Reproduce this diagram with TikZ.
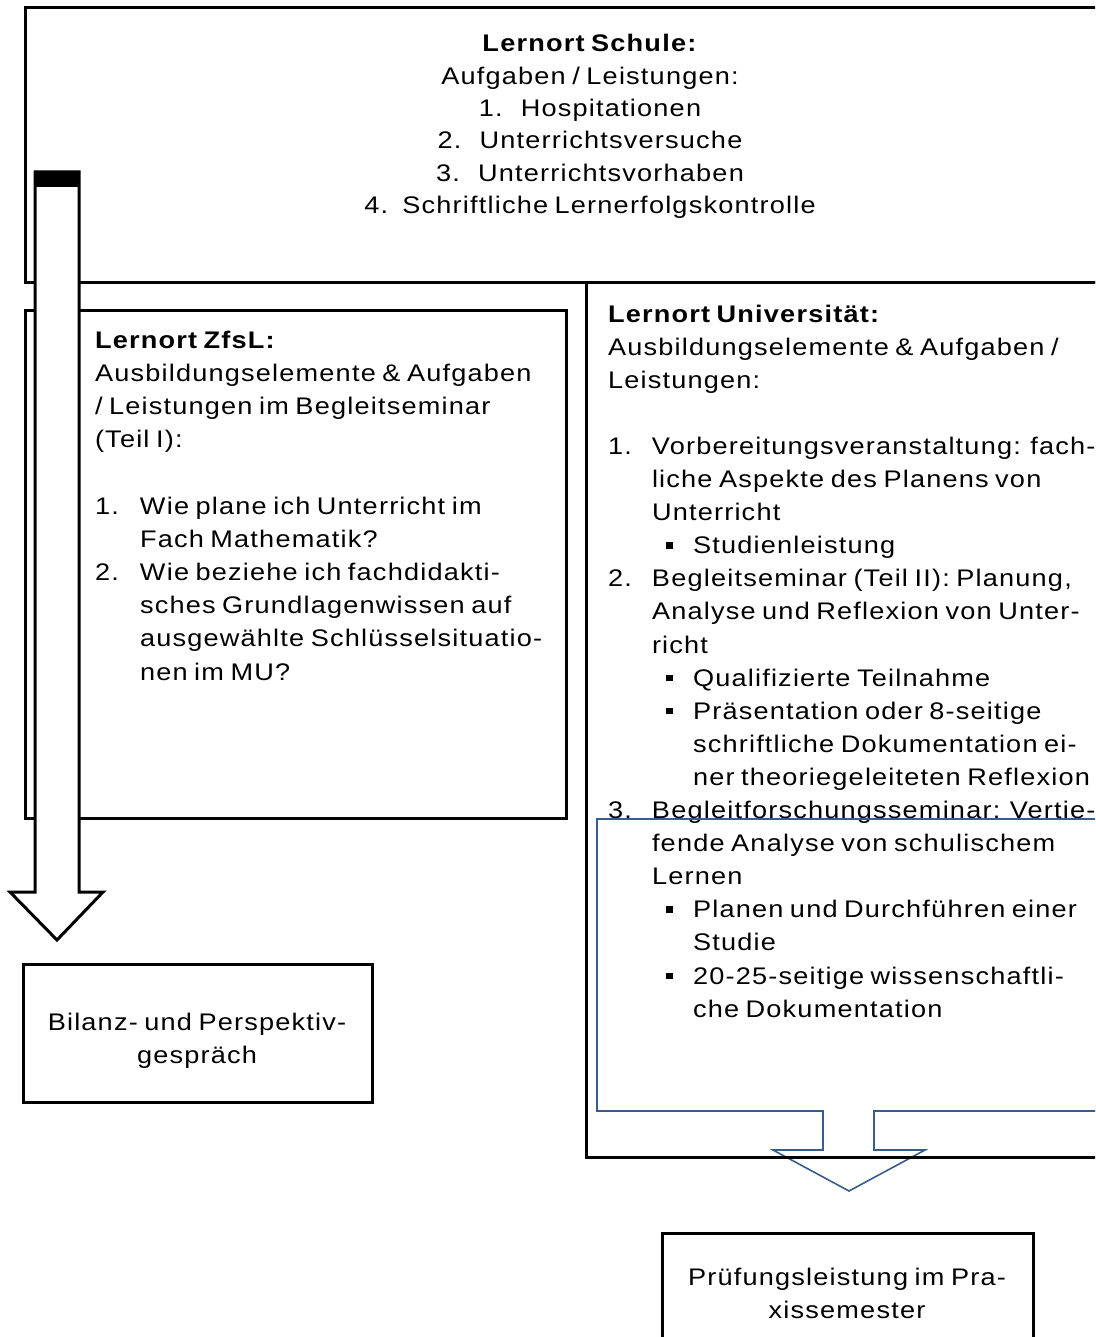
\documentclass[tikz,border=0pt]{standalone}
\usepackage{fontspec}
\setmainfont{Liberation Sans}[FakeStretch=1.13,LetterSpace=5,WordSpace=0.75]
\definecolor{calloutblue}{HTML}{385D8A}
\newcommand{\sqbul}{\raisebox{5pt}{\rule{6.5pt}{6.5pt}}}
\begin{document}
\begin{tikzpicture}[x=1pt,y=-1pt,
  frame/.style={draw=black,line width=3pt},
  txt/.style={inner sep=0pt,outer sep=0pt},
  blockarrow/.style={draw=black,line width=3pt,fill=white,line join=miter},
  callout/.style={draw=calloutblue,line width=1.6pt,line join=miter}]
\useasboundingbox (0,0) rectangle (1095,1337);
\clip (0,0) rectangle (1095,1337);

% frames
\draw[frame] (25,8) rectangle (1120,283);
\draw[frame] (25,310) rectangle (566,818);

% Text blocks
\node[txt,anchor=base,font=\fontsize{24}{32.3}\selectfont] (schule) at (590,52)
{\begin{tabular}[t]{@{}c@{}}
\textbf{Lernort Schule:}\\
Aufgaben / Leistungen:\\
\makebox[42pt][l]{1.}Hospitationen\\
\makebox[42pt][l]{2.}Unterrichtsversuche\\
\makebox[42pt][l]{3.}Unterrichtsvorhaben\\
\makebox[38pt][l]{4.}Schriftliche Lernerfolgskontrolle
\end{tabular}};

\node[txt,anchor=base west,font=\fontsize{24}{33.2}\selectfont] (zfsl) at (95,348)
{\begin{tabular}[t]{@{}l@{}}
\textbf{Lernort ZfsL:}\\
Ausbildungselemente \& Aufgaben\\
/ Leistungen im Begleitseminar\\
(Teil I):\\
\\
\makebox[45pt][l]{1.}Wie plane ich Unterricht im\\
\hspace*{45pt}Fach Mathematik?\\
\makebox[45pt][l]{2.}Wie beziehe ich fachdidakti-\\
\hspace*{45pt}sches Grundlagenwissen auf\\
\hspace*{45pt}ausgewählte Schlüsselsituatio-\\
\hspace*{45pt}nen im MU?
\end{tabular}};

\node[txt,anchor=base west,font=\fontsize{24}{33.1}\selectfont] (uni) at (608,322)
{\begin{tabular}[t]{@{}l@{}}
\textbf{Lernort Universität:}\\
Ausbildungselemente \& Aufgaben /\\
Leistungen:\\
\\
\makebox[44pt][l]{1.}Vorbereitungsveranstaltung: fach-\\
\hspace*{44pt}liche Aspekte des Planens von\\
\hspace*{44pt}Unterricht\\
\hspace*{58pt}\makebox[27pt][l]{\sqbul}Studienleistung\\
\makebox[44pt][l]{2.}Begleitseminar (Teil II): Planung,\\
\hspace*{44pt}Analyse und Reflexion von Unter-\\
\hspace*{44pt}richt\\
\hspace*{58pt}\makebox[27pt][l]{\sqbul}Qualifizierte Teilnahme\\
\hspace*{58pt}\makebox[27pt][l]{\sqbul}Präsentation oder 8-seitige\\
\hspace*{85pt}schriftliche Dokumentation ei-\\
\hspace*{85pt}ner theoriegeleiteten Reflexion\\
\makebox[44pt][l]{3.}Begleitforschungsseminar: Vertie-\\
\hspace*{44pt}fende Analyse von schulischem\\
\hspace*{44pt}Lernen\\
\hspace*{58pt}\makebox[27pt][l]{\sqbul}Planen und Durchführen einer\\
\hspace*{85pt}Studie\\
\hspace*{58pt}\makebox[27pt][l]{\sqbul}20-25-seitige wissenschaftli-\\
\hspace*{85pt}che Dokumentation
\end{tabular}};

% blue callout with down arrow
\draw[callout] (597,819) -- (1120,819) -- (1120,1111) -- (874,1111) -- (874,1150)
  -- (925,1150) -- (849,1191) -- (773,1150) -- (823,1150) -- (823,1111)
  -- (597,1111) -- cycle;

% university frame
\draw[frame] (586,283) rectangle (1120,1157);

% left block arrow
\draw[blockarrow] (35,172) -- (79,172) -- (79,892) -- (103,892) -- (57,940)
  -- (10,892) -- (35,892) -- cycle;
\fill[black] (34,171) rectangle (80,187);

% bottom boxes
\node[frame,minimum width=349pt,minimum height=138pt,inner sep=0pt] (bilanzbox) at (197.5,1033) {};
\node[txt,anchor=base,font=\fontsize{24}{33}\selectfont] (bilanz) at (197,1030)
{\begin{tabular}[t]{@{}c@{}}Bilanz- und Perspektiv-\\gespräch\end{tabular}};

\node[frame,minimum width=371pt,minimum height=130pt,inner sep=0pt] (pruefbox) at (847.5,1298) {};
\node[txt,anchor=base,font=\fontsize{24}{33}\selectfont] (pruef) at (847,1285)
{\begin{tabular}[t]{@{}c@{}}Prüfungsleistung im Pra-\\xissemester\end{tabular}};
\end{tikzpicture}
\end{document}
